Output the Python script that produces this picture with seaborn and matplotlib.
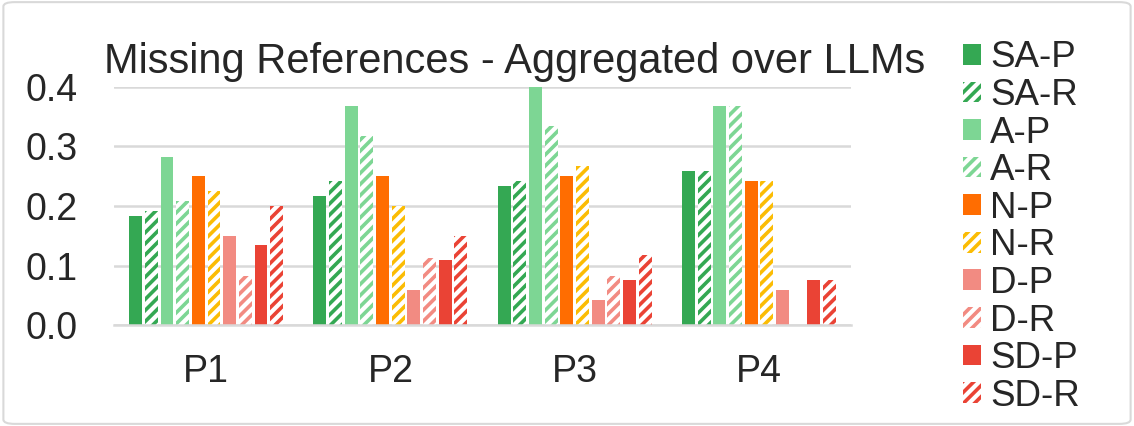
import numpy as np
import pandas as pd
import matplotlib
matplotlib.use("Agg")
import matplotlib.pyplot as plt
import matplotlib.patches as mpatches
import seaborn as sns

# data
groups = ["P1", "P2", "P3", "P4"]
series = ["SA-P", "SA-R", "A-P", "A-R", "N-P", "N-R", "D-P", "D-R", "SD-P", "SD-R"]
sa_p = [0.183, 0.217, 0.234, 0.259]
sa_r = [0.191, 0.242, 0.242, 0.259]
a_p = [0.283, 0.368, 0.400, 0.368]
a_r = [0.208, 0.318, 0.334, 0.368]
n_p = [0.250, 0.250, 0.250, 0.242]
n_r = [0.225, 0.200, 0.267, 0.242]
d_p = [0.150, 0.059, 0.042, 0.059]
d_r = [0.082, 0.112, 0.082, 0.000]
sd_p = [0.134, 0.109, 0.075, 0.075]
sd_r = [0.200, 0.150, 0.117, 0.075]
colors = ["#34A853", "#34A853", "#7DD694", "#7DD694", "#FF6D01",
          "#FBBC04", "#F28B82", "#F28B82", "#EA4335", "#EA4335"]
hatched = [False, True, False, True, False, True, False, True, False, True]

values = [sa_p, sa_r, a_p, a_r, n_p, n_r, d_p, d_r, sd_p, sd_r]
rows = []
for s, vals in zip(series, values):
    for g, v in zip(groups, vals):
        rows.append({"group": g, "series": s, "value": v})
df = pd.DataFrame(rows)

sns.set_theme(style="white")
plt.rcParams["font.family"] = ["Liberation Sans", "DejaVu Sans"]
plt.rcParams["hatch.linewidth"] = 2.6

fig = plt.figure(figsize=(11.34, 4.26), dpi=100)
ax = fig.add_axes([0.1005, 0.237, 0.65, 0.559])

sns.barplot(data=df, x="group", y="value", hue="series", hue_order=series,
            palette=colors, width=0.85, gap=0.18, ax=ax, legend=False,
            saturation=1)

for cont, col, h in zip(ax.containers, colors, hatched):
    for bar in cont:
        bar.set_linewidth(0)
        if h:
            bar.set_facecolor("white")
            bar.set_edgecolor(col)
            bar.set_hatch("///")
        else:
            bar.set_facecolor(col)

ax.set_ylim(0, 0.4)
ax.set_yticks([0.0, 0.1, 0.2, 0.3, 0.4])
ax.set_yticklabels(["0.0", "0.1", "0.2", "0.3", "0.4"])
ax.yaxis.grid(True, color="#d9d9d9", linewidth=1.8)
ax.set_axisbelow(True)
for sp in ["top", "right", "left"]:
    ax.spines[sp].set_visible(False)
ax.spines["bottom"].set_color("#d9d9d9")
ax.spines["bottom"].set_linewidth(1.8)
ax.tick_params(axis="y", labelsize=27, length=0, pad=26)
ax.tick_params(axis="x", labelsize=27, length=0, pad=21)
ax.set_xlabel("")
ax.set_ylabel("")
ax.set_title("Missing References - Aggregated over LLMs", fontsize=30, pad=10,
             x=0.543)

handles = []
for s, col, h in zip(series, colors, hatched):
    if h:
        p = mpatches.Patch(facecolor="white", edgecolor=col, hatch="///",
                           linewidth=0, label=s)
    else:
        p = mpatches.Patch(facecolor=col, edgecolor=col, linewidth=0, label=s)
    handles.append(p)
fig.legend(handles=handles, loc="upper left", bbox_to_anchor=(0.849, 0.905),
           frameon=False, fontsize=26.5, handlelength=0.49, handleheight=0.49,
           handletextpad=0.25, labelspacing=0.07, borderaxespad=0,
           borderpad=0)

fig.patches.append(mpatches.FancyBboxPatch((0.003, 0.005), 0.994, 0.99,
                                           boxstyle="round,pad=0,rounding_size=0.01",
                                           transform=fig.transFigure,
                                           facecolor="none", edgecolor="#d9d9d9",
                                           linewidth=1.5))

fig.savefig("out.png", dpi=100)
